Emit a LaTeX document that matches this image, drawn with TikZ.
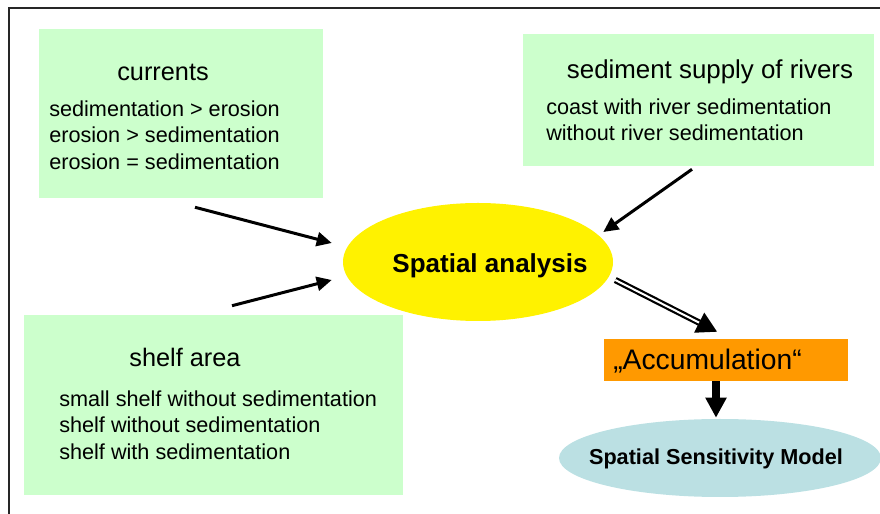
\documentclass[tikz,border=0pt]{standalone}
\usepackage{fontspec}
\setmainfont{Liberation Sans}
\usepackage{tikz}
\usetikzlibrary{arrows.meta,positioning,calc,shapes.geometric}
\definecolor{boxgreen}{HTML}{CCFFCC}
\definecolor{accorange}{HTML}{FF9900}
\definecolor{modelblue}{HTML}{BBE0E3}

\begin{document}
\begin{tikzpicture}[
    x=0.25mm, y=-0.25mm,
    gbox/.style={rectangle, fill=boxgreen, inner sep=0pt},
    head/.style={font=\fontsize{18}{22}\selectfont, inner sep=0pt},
    items/.style={font=\fontsize{15.4}{18.85}\selectfont, align=left,
                  inner sep=0pt, anchor=west},
    bold/.style={font=\bfseries\fontsize{15.4}{18}\selectfont, inner sep=0pt},
    arr/.style={-{Triangle[length=3.75mm,width=3.5mm]}, line width=0.75mm},
    dblarr/.style={-{Triangle[length=5mm,width=5.5mm]}, double, line width=0.55mm,
                   double distance=0.5mm},
    fatarr/.style={-{Triangle[length=5mm,width=5mm]}, line width=2mm}
]
\useasboundingbox (0,0) rectangle (880,514);
\clip (0,0) rectangle (880,514);

% frame
\draw[line width=0.5mm, black!85] (9,514) -- (9,8) -- (880,8);

% input boxes
\node[gbox, minimum width=71mm, minimum height=42.25mm] (cur) at (181,113.5) {};
\node[head] (curhead) at (163,72) {currents};
\node[items] (curitems) at (49,135) {sedimentation > erosion\\
  erosion > sedimentation\\ erosion = sedimentation};

\node[gbox, minimum width=87.75mm, minimum height=33mm] (riv) at (698.5,100) {};
\node[head, font=\fontsize{18.4}{22}\selectfont] (rivhead) at (710,72)
  {sediment supply of rivers};
\node[items] (rivitems) at (546,120) {coast with river sedimentation\\
  without river sedimentation};

\node[gbox, minimum width=94.75mm, minimum height=45mm] (shf) at (213.5,405) {};
\node[head] (shfhead) at (185,357) {shelf area};
\node[items] (shfitems) at (59,425) {small shelf without sedimentation\\
  shelf without sedimentation\\ shelf with sedimentation};

% analysis and result
\node[ellipse, fill=yellow, minimum width=67.5mm, minimum height=29.5mm,
      inner sep=0pt] (ana) at (478,262) {};
\node[bold, font=\bfseries\fontsize{18.5}{22}\selectfont] (anatxt) at (490,266)
  {Spatial analysis};

\node[rectangle, fill=accorange, minimum width=61mm, minimum height=10.5mm,
      inner sep=0pt] (acc) at (726,360) {};
\node[anchor=west, inner sep=0pt, font=\fontsize{20.1}{24}\selectfont] (acctxt)
  at (613,361) {„Accumulation“};

\node[ellipse, fill=modelblue, minimum width=80.5mm, minimum height=19.5mm,
      inner sep=0pt, bold] (ssm) at (720,458) {};
\node[bold] (ssmtxt) at (716,459) {Spatial Sensitivity Model};

\draw[arr] ($(cur.south)+(14,9)$) -- ($(ana.west)+(-11,-19)$);
\draw[arr] ($(shf.north)+(18.5,-9)$) -- ($(ana.west)+(-11,18)$);
\draw[arr] ($(riv.south)+(-6.5,3)$) -- ($(ana.east)+(-10,-30)$);
\draw[dblarr] ($(ana.east)+(2,18)$) -- ($(acc.north)+(-9,-7)$);
\draw[fatarr] ($(acc.south)+(-10,0)$) -- ($(ssm.north)+(-4,-1)$);
\end{tikzpicture}
\end{document}
